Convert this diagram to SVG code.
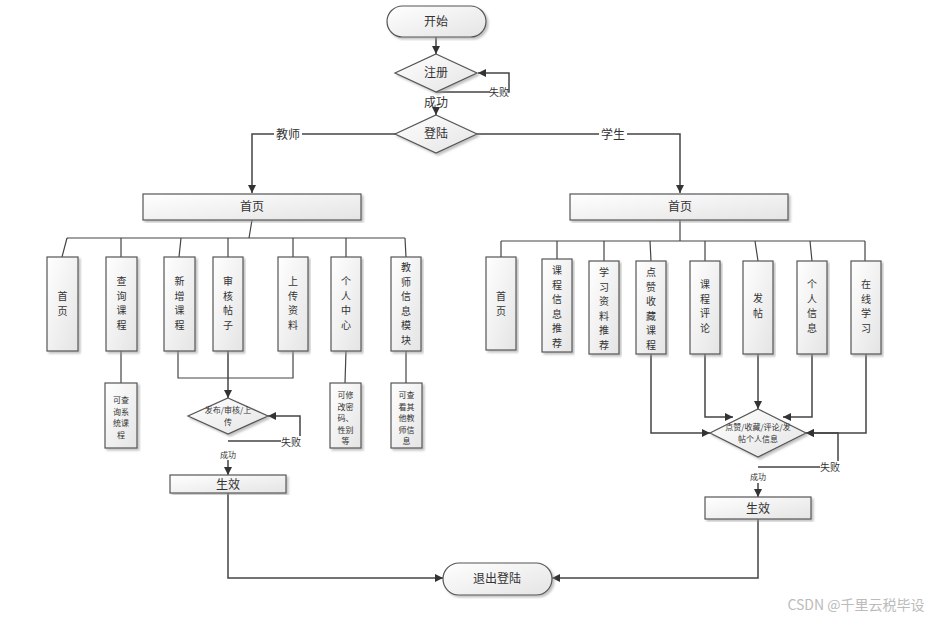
<svg xmlns="http://www.w3.org/2000/svg" width="946" height="620" viewBox="0 0 946 620">
<defs>
<linearGradient id="g" x1="0" y1="0" x2="1" y2="1"><stop offset="0" stop-color="#ffffff"/><stop offset="1" stop-color="#e4e4e4"/></linearGradient>
<marker id="a" viewBox="0 0 10 10" refX="10" refY="5" markerWidth="8" markerHeight="8" markerUnits="userSpaceOnUse" orient="auto"><path d="M0,0L10,5L0,10z" fill="#333"/></marker>
<filter id="s"><feDropShadow dx="2" dy="2" stdDeviation="1" flood-color="#999" flood-opacity="0.6"/></filter>
</defs>
<style>
.n{fill:url(#g);stroke:#555;stroke-width:1.2;filter:url(#s)}
.t{font-family:"Noto Sans CJK SC",sans-serif;font-size:12px;fill:#333;text-anchor:middle}
.v{font-family:"Noto Sans CJK SC",sans-serif;font-size:10px;fill:#333;text-anchor:middle}
.sm{font-family:"Noto Sans CJK SC",sans-serif;font-size:8px;fill:#333;text-anchor:middle}
.c{fill:none;stroke:#444;stroke-width:1.2}
.ca{fill:none;stroke:#444;stroke-width:1.5;marker-end:url(#a)}
.lb{font-family:"Noto Sans CJK SC",sans-serif;font-size:10px;fill:#333;text-anchor:middle}
</style>
<rect width="946" height="620" fill="#fff"/>
<g id="connectors">
<path class="ca" d="M436,37V54"/>
<path class="ca" d="M436,92H509V73H478"/>
<path class="ca" d="M436,108V115"/>
<path class="ca" d="M396,134H252V193"/>
<path class="ca" d="M477,134H680V193"/>
<path class="c" d="M252,220L249,238M67,238H405M67,238L62,257M121,238V257M181,238L179,257M228,238V257M293,238V257M346,238V257M405,238L406,257M121,351V383M346,351L345,383M406,351V383"/>
<path class="c" d="M178,351V378H293V351"/>
<path class="ca" d="M228,351V398"/>
<path class="ca" d="M228,441H300V416H268"/>
<path class="ca" d="M228,460V475"/>
<path class="ca" d="M228,493V578H443"/>
<path class="c" d="M680,220V241M501,241H865M501,241V257M557,241V259M604,241V261M650,241L651,261M705,241V261M755,241L758,261M810,241L812,261M865,241V261"/>
<path class="ca" d="M651,354V433H710"/>
<path class="ca" d="M705,354V417H733"/>
<path class="ca" d="M758,354V409"/>
<path class="ca" d="M812,354V417H783"/>
<path class="ca" d="M866,354V433H806"/>
<path class="ca" d="M758,467H838V433H806"/>
<path class="ca" d="M758,483V497"/>
<path class="ca" d="M758,519V578H552"/>
</g>
<g id="labels">
<rect x="490" y="86" width="18" height="12" fill="#fff"/><text class="lb" x="499" y="96">失败</text>
<text class="t" x="436" y="107">成功</text>
<rect x="274" y="128" width="28" height="13" fill="#fff"/><text class="t" x="288" y="139">教师</text>
<rect x="599" y="128" width="28" height="13" fill="#fff"/><text class="t" x="613" y="139">学生</text>
<rect x="281" y="436" width="20" height="12" fill="#fff"/><text class="lb" x="291" y="446">失败</text>
<text class="sm" x="228" y="458">成功</text>
<rect x="820" y="461" width="20" height="12" fill="#fff"/><text class="lb" x="830" y="471">失败</text>
<text class="sm" x="758" y="480">成功</text>
</g>
<g id="start"><rect class="n" x="387" y="6" width="99" height="31" rx="15.5"/><text class="t" x="436" y="26">开始</text></g>
<g id="register"><path class="n" d="M436,54L477,73L436,92L395,73z"/><text class="t" x="436" y="77">注册</text></g>
<g id="login"><path class="n" d="M436,115L477,134L436,153L395,134z"/><text class="t" x="436" y="138">登陆</text></g>
<g id="t-home"><rect class="n" x="143" y="194" width="218" height="26"/><text class="t" x="252" y="211">首页</text></g>
<g id="s-home"><rect class="n" x="570" y="194" width="218" height="26"/><text class="t" x="680" y="211">首页</text></g>
<g id="t1"><rect class="n" x="47" y="257" width="31" height="94"/><text class="v" x="62.5" y="300"><tspan x="62.5">首</tspan><tspan x="62.5" dy="14.5">页</tspan></text></g>
<g id="t2"><rect class="n" x="106" y="257" width="31" height="94"/><text class="v" x="121.5" y="285"><tspan x="121.5">查</tspan><tspan x="121.5" dy="14.5">询</tspan><tspan x="121.5" dy="14.5">课</tspan><tspan x="121.5" dy="14.5">程</tspan></text></g>
<g id="t3"><rect class="n" x="164" y="257" width="31" height="94"/><text class="v" x="179.5" y="285"><tspan x="179.5">新</tspan><tspan x="179.5" dy="14.5">增</tspan><tspan x="179.5" dy="14.5">课</tspan><tspan x="179.5" dy="14.5">程</tspan></text></g>
<g id="t4"><rect class="n" x="213" y="257" width="30" height="94"/><text class="v" x="228" y="285"><tspan x="228">审</tspan><tspan x="228" dy="14.5">核</tspan><tspan x="228" dy="14.5">帖</tspan><tspan x="228" dy="14.5">子</tspan></text></g>
<g id="t5"><rect class="n" x="278" y="257" width="30" height="94"/><text class="v" x="293" y="285"><tspan x="293">上</tspan><tspan x="293" dy="14.5">传</tspan><tspan x="293" dy="14.5">资</tspan><tspan x="293" dy="14.5">料</tspan></text></g>
<g id="t6"><rect class="n" x="331" y="257" width="30" height="94"/><text class="v" x="346" y="285"><tspan x="346">个</tspan><tspan x="346" dy="14.5">人</tspan><tspan x="346" dy="14.5">中</tspan><tspan x="346" dy="14.5">心</tspan></text></g>
<g id="t7"><rect class="n" x="391" y="257" width="30" height="94"/><text class="v" x="406" y="271"><tspan x="406">教</tspan><tspan x="406" dy="14.5">师</tspan><tspan x="406" dy="14.5">信</tspan><tspan x="406" dy="14.5">息</tspan><tspan x="406" dy="14.5">模</tspan><tspan x="406" dy="14.5">块</tspan></text></g>
<g id="t2s"><rect class="n" x="105" y="383" width="32" height="65"/><text class="sm" x="121" y="403"><tspan x="121">可查</tspan><tspan x="121" dy="11.6">询系</tspan><tspan x="121" dy="11.6">统课</tspan><tspan x="121" dy="11.6">程</tspan></text></g>
<g id="t6s"><rect class="n" x="330" y="383" width="31" height="65"/><text class="sm" x="345.5" y="398"><tspan x="345.5">可修</tspan><tspan x="345.5" dy="11.6">改密</tspan><tspan x="345.5" dy="11.6">码、</tspan><tspan x="345.5" dy="11.6">性别</tspan><tspan x="345.5" dy="11.6">等</tspan></text></g>
<g id="t7s"><rect class="n" x="391" y="383" width="31" height="65"/><text class="sm" x="406.5" y="398"><tspan x="406.5">可查</tspan><tspan x="406.5" dy="11.6">看其</tspan><tspan x="406.5" dy="11.6">他教</tspan><tspan x="406.5" dy="11.6">师信</tspan><tspan x="406.5" dy="11.6">息</tspan></text></g>
<g id="t-dec"><path class="n" d="M228,398L268,416L228,434L188,416z"/><text class="sm" x="228" y="413"><tspan x="228">发布/审核/上</tspan><tspan x="228" dy="11.6">传</tspan></text></g>
<g id="t-ok"><rect class="n" x="170" y="475" width="116" height="18"/><text class="t" x="228" y="489">生效</text></g>
<g id="s1"><rect class="n" x="486" y="257" width="30" height="93"/><text class="v" x="501" y="300"><tspan x="501">首</tspan><tspan x="501" dy="14.5">页</tspan></text></g>
<g id="s2"><rect class="n" x="542" y="259" width="30" height="93"/><text class="v" x="557" y="274"><tspan x="557">课</tspan><tspan x="557" dy="14.5">程</tspan><tspan x="557" dy="14.5">信</tspan><tspan x="557" dy="14.5">息</tspan><tspan x="557" dy="14.5">推</tspan><tspan x="557" dy="14.5">荐</tspan></text></g>
<g id="s3"><rect class="n" x="589" y="261" width="30" height="93"/><text class="v" x="604" y="276"><tspan x="604">学</tspan><tspan x="604" dy="14.5">习</tspan><tspan x="604" dy="14.5">资</tspan><tspan x="604" dy="14.5">料</tspan><tspan x="604" dy="14.5">推</tspan><tspan x="604" dy="14.5">荐</tspan></text></g>
<g id="s4"><rect class="n" x="636" y="261" width="30" height="93"/><text class="v" x="651" y="276"><tspan x="651">点</tspan><tspan x="651" dy="14.5">赞</tspan><tspan x="651" dy="14.5">收</tspan><tspan x="651" dy="14.5">藏</tspan><tspan x="651" dy="14.5">课</tspan><tspan x="651" dy="14.5">程</tspan></text></g>
<g id="s5"><rect class="n" x="690" y="261" width="30" height="93"/><text class="v" x="705" y="288"><tspan x="705">课</tspan><tspan x="705" dy="14.5">程</tspan><tspan x="705" dy="14.5">评</tspan><tspan x="705" dy="14.5">论</tspan></text></g>
<g id="s6"><rect class="n" x="743" y="261" width="30" height="93"/><text class="v" x="758" y="302"><tspan x="758">发</tspan><tspan x="758" dy="14.5">帖</tspan></text></g>
<g id="s7"><rect class="n" x="797" y="261" width="30" height="93"/><text class="v" x="812" y="288"><tspan x="812">个</tspan><tspan x="812" dy="14.5">人</tspan><tspan x="812" dy="14.5">信</tspan><tspan x="812" dy="14.5">息</tspan></text></g>
<g id="s8"><rect class="n" x="851" y="261" width="30" height="93"/><text class="v" x="866" y="288"><tspan x="866">在</tspan><tspan x="866" dy="14.5">线</tspan><tspan x="866" dy="14.5">学</tspan><tspan x="866" dy="14.5">习</tspan></text></g>
<g id="s-dec"><path class="n" d="M758,409L806,433L758,457L710,433z"/><text class="sm" x="758" y="430"><tspan x="758">点赞/收藏/评论/发</tspan><tspan x="758" dy="11.6">帖个人信息</tspan></text></g>
<g id="s-ok"><rect class="n" x="705" y="497" width="106" height="22"/><text class="t" x="758" y="513">生效</text></g>
<g id="exit"><rect class="n" x="443" y="563" width="109" height="32" rx="16"/><text class="t" x="497" y="583">退出登陆</text></g>
<text x="856" y="610" font-family="Noto Sans CJK SC,sans-serif" font-size="14" fill="#bbb" text-anchor="middle">CSDN @千里云税毕设</text>
</svg>
